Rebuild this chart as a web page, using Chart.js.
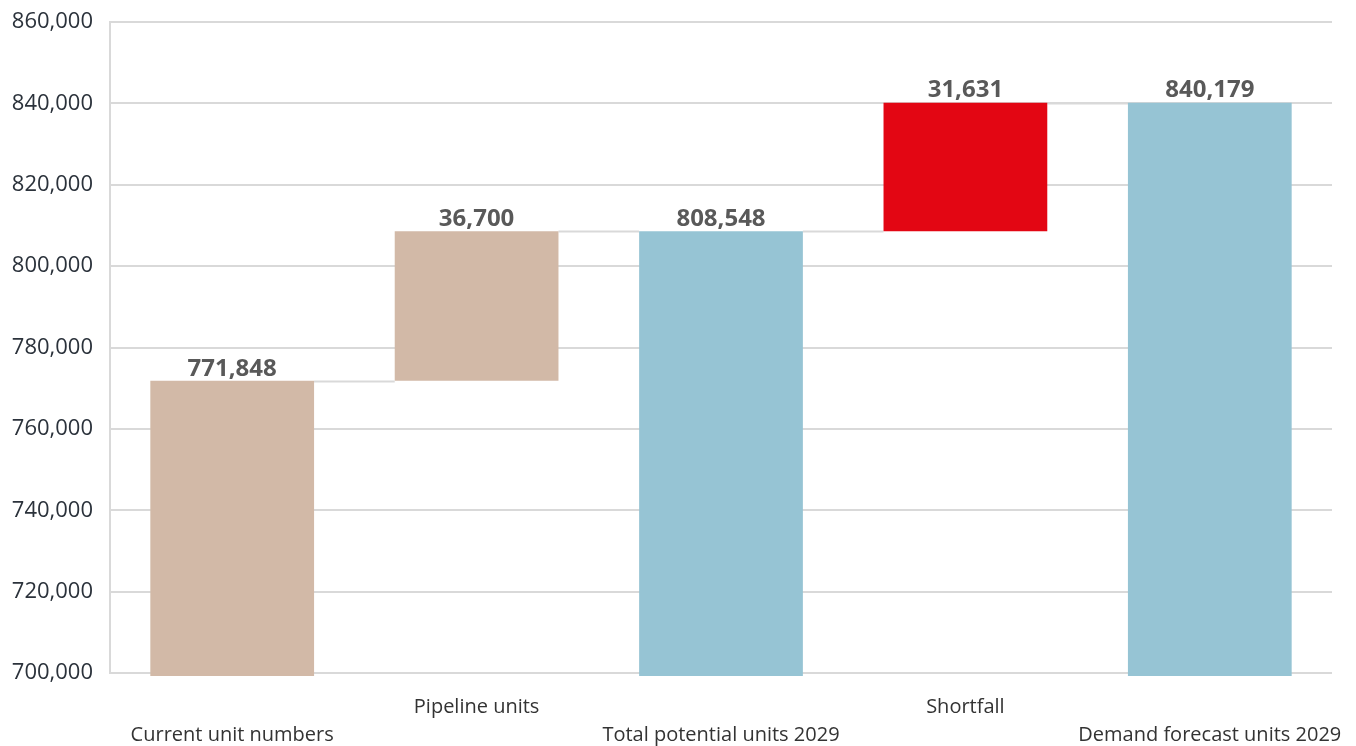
<!DOCTYPE html>
<html>
<head>
<meta charset="utf-8">
<title>Housing units waterfall</title>
<script src="https://cdn.jsdelivr.net/npm/chart.js@4"></script>
<style>
  html, body { margin: 0; padding: 0; background: #ffffff; }
  #wrap { width: 1356px; height: 746px; }
</style>
</head>
<body>
<div id="wrap"><canvas id="chart"></canvas></div>
<script>
// Step categories and their values
const categories = ['Current unit numbers', 'Pipeline units', 'Total potential units 2029', 'Shortfall', 'Demand forecast units 2029'];
const stepValues = [771848, 36700, 808548, 31631, 840179];
// 'total' bars rise from the axis; 'delta' bars float on the running total
const stepKinds = ['total', 'delta', 'total', 'delta', 'total'];
const barColors = ['#D2B9A7', '#D2B9A7', '#96C4D4', '#E30613', '#96C4D4'];
const yTicks = { min: 700000, max: 860000, step: 20000 };

// Build floating [start, end] ranges from the step values
const ranges = [];
let running = 0;
stepValues.forEach((v, i) => {
  if (stepKinds[i] === 'total') {
    ranges.push([0, v]);
    running = v;
  } else {
    ranges.push([running, running + v]);
    running += v;
  }
});

const numFmt = new Intl.NumberFormat('en-US');
const fontFamily = '"Open Sans", "Noto Sans", sans-serif';

// Thin connector lines joining the top of each bar to the next bar
const connectors = {
  id: 'connectors',
  beforeDatasetsDraw(chart) {
    const meta = chart.getDatasetMeta(0);
    const y = chart.scales.y;
    const ctx = chart.ctx;
    ctx.save();
    ctx.strokeStyle = '#d9d9d9';
    ctx.lineWidth = 2;
    for (let i = 0; i < meta.data.length - 1; i++) {
      const a = meta.data[i], b = meta.data[i + 1];
      const level = ranges[i][1];
      const py = Math.round(y.getPixelForValue(level)) + 0.5;
      ctx.beginPath();
      ctx.moveTo(a.x + a.width / 2, py);
      ctx.lineTo(b.x - b.width / 2, py);
      ctx.stroke();
    }
    ctx.restore();
  }
};

// Value labels above each bar
const valueLabels = {
  id: 'valueLabels',
  afterDatasetsDraw(chart) {
    const meta = chart.getDatasetMeta(0);
    const ctx = chart.ctx;
    ctx.save();
    ctx.font = 'bold 24px ' + fontFamily;
    ctx.fillStyle = '#595959';
    ctx.textAlign = 'center';
    ctx.textBaseline = 'bottom';
    meta.data.forEach((bar, i) => {
      ctx.fillText(numFmt.format(stepValues[i]), bar.x, bar.y);
    });
    ctx.restore();
  }
};

new Chart(document.getElementById('chart'), {
  type: 'bar',
  data: {
    labels: categories,
    datasets: [{
      data: ranges,
      backgroundColor: barColors,
      borderWidth: 0,
      borderSkipped: false,
      barPercentage: 0.67,
      categoryPercentage: 1,
      clip: { left: 0, top: 0, right: 0, bottom: 3 }
    }]
  },
  options: {
    responsive: true,
    maintainAspectRatio: false,
    animation: false,
    layout: { padding: { top: 22, right: 24, left: 0, bottom: 0 } },
    plugins: {
      legend: { display: false },
      tooltip: { enabled: false }
    },
    scales: {
      x: {
        grid: { display: false, drawTicks: false },
        border: { display: false },
        // fixed axis band; long end labels may run past the plot edge
        afterFit(scale) {
          scale.height = 73;
          scale.paddingLeft = 0;
          scale.paddingRight = 0;
        },
        ticks: {
          autoSkip: false,
          maxRotation: 0,
          padding: 20,
          color: '#333333',
          font: { family: fontFamily, size: 20, lineHeight: 1.4 },
          // alternate the rows so the long names don't collide
          callback: (v, i) => (i % 2 === 0 ? ['', categories[i]] : [categories[i], ''])
        }
      },
      y: {
        min: yTicks.min,
        max: yTicks.max,
        grid: { color: '#d9d9d9', lineWidth: 2, drawTicks: false },
        border: { display: true, color: '#d9d9d9', width: 2 },
        afterFit(scale) {
          scale.width = 110;
          scale.paddingTop = 0;
          scale.paddingBottom = 0;
        },
        ticks: {
          stepSize: yTicks.step,
          padding: 17,
          color: '#2b323b',
          font: { family: fontFamily, size: 22 },
          callback: v => numFmt.format(v)
        }
      }
    }
  },
  plugins: [connectors, valueLabels]
});
</script>
</body>
</html>
